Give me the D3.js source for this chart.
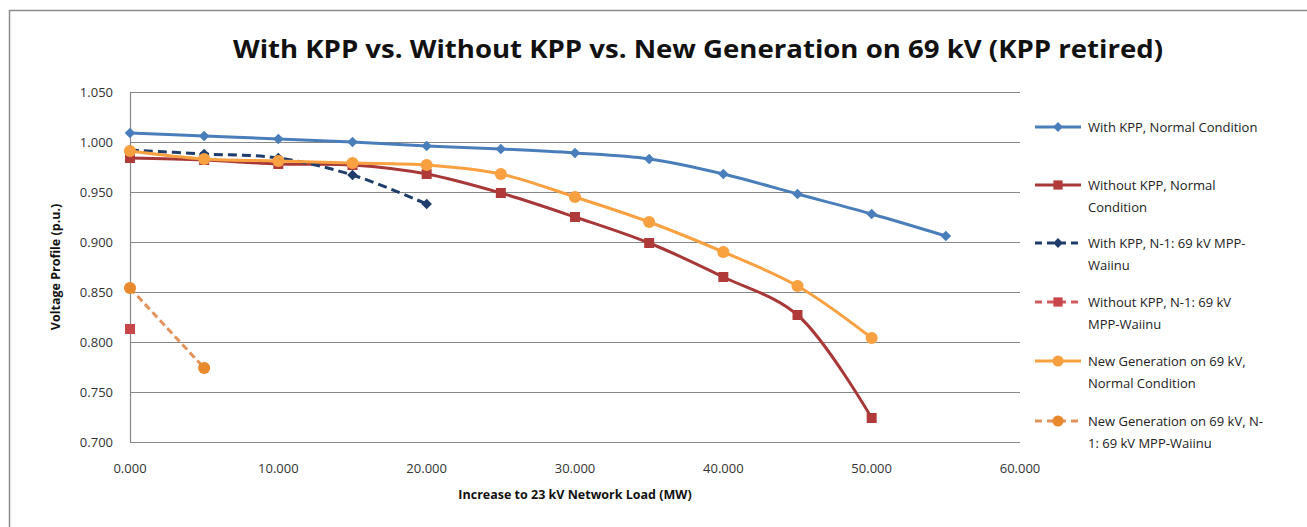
<!DOCTYPE html>
<html>
<head>
<meta charset="utf-8">
<script src="https://cdn.jsdelivr.net/npm/d3@7"></script>
<style>
  body { margin: 0; background: #fff; }
  svg { display: block; font-family: 'Open Sans', 'DejaVu Sans', sans-serif; }
</style>
</head>
<body>
<div id="chart"></div>
<script>
// data
const loads = [0, 5, 10, 15, 20, 25, 30, 35, 40, 45, 50, 55]
const withKppNormal = [1.009, 1.006, 1.003, 1.000, 0.996, 0.993, 0.989, 0.983, 0.968, 0.948, 0.928, 0.906]
const withoutKppNormal = [0.984, 0.982, 0.978, 0.977, 0.968, 0.949, 0.925, 0.899, 0.865, 0.827, 0.724]
const withKppN1 = [0.992, 0.988, 0.984, 0.967, 0.938]
const withoutKppN1 = [0.813]
const newGenNormal = [0.991, 0.983, 0.981, 0.979, 0.977, 0.968, 0.945, 0.920, 0.890, 0.856, 0.804]
const newGenN1 = [0.854, 0.774]

const xTicks = [0, 10, 20, 30, 40, 50, 60]
const yTicks = [0.7, 0.75, 0.8, 0.85, 0.9, 0.95, 1.0, 1.05]

// diamond = square turned 45 degrees, like Excel markers
const series = [
  { name: ['With KPP, Normal Condition'], values: withKppNormal, color: '#4a7ebb', line: '#4a7ebb', dash: null, symbol: d3.symbolSquare, rot: 45, size: 56 },
  { name: ['Without KPP, Normal', 'Condition'], values: withoutKppNormal, color: '#b03a3a', line: '#a83838', dash: null, symbol: d3.symbolSquare, rot: 0, size: 100 },
  { name: ['With KPP, N-1: 69 kV MPP-', 'Waiinu'], values: withKppN1, color: '#1f3d6b', line: '#1f3d6b', dash: '9,5', symbol: d3.symbolSquare, rot: 45, size: 56 },
  { name: ['Without KPP, N-1: 69 kV', 'MPP-Waiinu'], values: withoutKppN1, color: '#c8464a', line: '#d05a5e', dash: '7,4', symbol: d3.symbolSquare, rot: 0, size: 100 },
  { name: ['New Generation on 69 kV,', 'Normal Condition'], values: newGenNormal, color: '#f9a040', line: '#f9a040', dash: null, symbol: d3.symbolCircle, rot: 0, size: 115 },
  { name: ['New Generation on 69 kV, N-', '1: 69 kV MPP-Waiinu'], values: newGenN1, color: '#e8892e', line: '#e2925a', dash: '7,4', symbol: d3.symbolCircle, rot: 0, size: 115 },
]

const W = 1307, H = 527
const margin = { top: 92, left: 130, right: 287, bottom: 85 }
const width = W - margin.left - margin.right
const height = H - margin.top - margin.bottom

const svg = d3.select('#chart').append('svg').attr('width', W).attr('height', H)

// outer chart frame
svg.append('rect')
  .attr('x', 9.5).attr('y', 10.5)
  .attr('width', W + 20).attr('height', H + 20)
  .attr('fill', '#fff').attr('stroke', '#8c8c8c').attr('stroke-width', 1.5)

// title
svg.append('text')
  .attr('x', 698).attr('y', 58)
  .attr('text-anchor', 'middle')
  .attr('font-size', 25).attr('font-weight', 'bold')
  .attr('textLength', 930).attr('lengthAdjust', 'spacingAndGlyphs')
  .attr('fill', '#111')
  .text('With KPP vs. Without KPP vs. New Generation on 69 kV (KPP retired)')

const x = d3.scaleLinear().domain([0, 60]).range([0, width])
const y = d3.scaleLinear().domain([0.7, 1.05]).range([height, 0])

const g = svg.append('g').attr('transform', `translate(${margin.left},${margin.top})`)

// gridlines
g.append('g')
  .selectAll('line')
  .data(yTicks)
  .join('line')
  .attr('x1', 0).attr('x2', width)
  .attr('y1', d => Math.round(y(d)) + 0.5).attr('y2', d => Math.round(y(d)) + 0.5)
  .attr('stroke', '#878787').attr('stroke-width', 1.2)

// y axis line
g.append('line')
  .attr('x1', 0.5).attr('x2', 0.5).attr('y1', 0).attr('y2', height)
  .attr('stroke', '#878787').attr('stroke-width', 1.2)

// y tick labels
g.append('g')
  .selectAll('text')
  .data(yTicks)
  .join('text')
  .attr('x', -17).attr('y', d => y(d) + 5)
  .attr('text-anchor', 'end').attr('font-size', 13).attr('fill', '#333')
  .text(d => d3.format('.3f')(d))

// x tick labels
g.append('g')
  .selectAll('text')
  .data(xTicks)
  .join('text')
  .attr('x', d => x(d)).attr('y', height + 31)
  .attr('text-anchor', 'middle').attr('font-size', 13).attr('fill', '#333')
  .text(d => d3.format('.3f')(d))

// axis titles
svg.append('text')
  .attr('x', margin.left + 445).attr('y', 499)
  .attr('text-anchor', 'middle').attr('font-size', 12.5).attr('font-weight', 'bold').attr('fill', '#111')
  .text('Increase to 23 kV Network Load (MW)')

svg.append('text')
  .attr('transform', 'translate(60,267) rotate(-90)')
  .attr('text-anchor', 'middle').attr('font-size', 12.5).attr('font-weight', 'bold').attr('fill', '#111')
  .text('Voltage Profile (p.u.)')

// lines and markers
series.forEach(s => {
  const pts = s.values.map((v, i) => [loads[i], v])
  const line = d3.line()
    .x(d => x(d[0])).y(d => y(d[1]))
    .curve(d3.curveCatmullRom.alpha(0.5))
  if (pts.length > 1) {
    g.append('path')
      .datum(pts)
      .attr('d', line)
      .attr('fill', 'none')
      .attr('stroke', s.line)
      .attr('stroke-width', 3)
      .attr('stroke-dasharray', s.dash)
  }
  g.append('g')
    .selectAll('path')
    .data(pts)
    .join('path')
    .attr('transform', d => `translate(${x(d[0])},${y(d[1])}) rotate(${s.rot})`)
    .attr('d', d3.symbol().type(s.symbol).size(s.size))
    .attr('fill', s.color)
})

// legend
const legendTop = [127, 185, 243, 302, 361, 421]
const legend = svg.append('g')
series.forEach((s, i) => {
  const ly = legendTop[i]
  const item = legend.append('g').attr('transform', `translate(1035,${ly})`)
  item.append('line')
    .attr('x1', 0).attr('x2', 46).attr('y1', 0).attr('y2', 0)
    .attr('stroke', s.line).attr('stroke-width', 3)
    .attr('stroke-dasharray', s.dash ? '7,5' : null)
  item.append('path')
    .attr('transform', `translate(23,0) rotate(${s.rot})`)
    .attr('d', d3.symbol().type(s.symbol).size(s.size * 0.85))
    .attr('fill', s.color)
  s.name.forEach((t, j) => {
    item.append('text')
      .attr('x', 53).attr('y', 5 + j * 22)
      .attr('font-size', 13).attr('fill', '#222')
      .text(t)
  })
})
</script>
</body>
</html>
